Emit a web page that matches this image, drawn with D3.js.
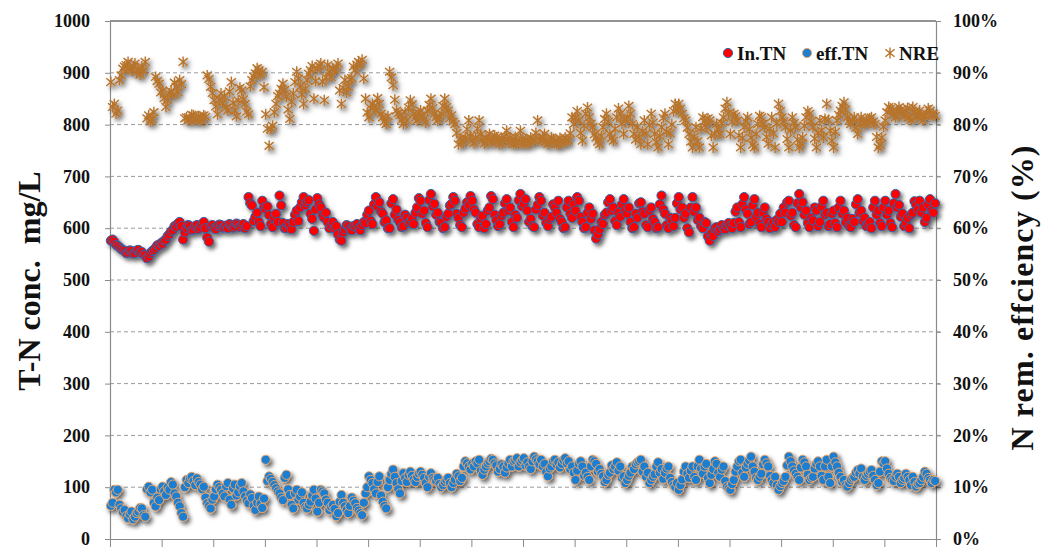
<!DOCTYPE html>
<html>
<head>
<meta charset="utf-8">
<script src="https://cdn.jsdelivr.net/npm/d3@7"></script>
<style>
  body { margin: 0; background: #fff; }
  text { font-family: "Liberation Serif", "Times New Roman", serif; font-weight: bold; fill: #111; }
</style>
</head>
<body>
<svg id="chart" width="1056" height="548"></svg>
<script>
// Operation days (daily samples over 480 days)
const days = d3.range(0.5, 480, 1);
const dayTicks = d3.range(0, 481, 30);

// Influent total nitrogen, mg/L
const inTN = [
  576, 578, 574, 568, 566, 563, 560, 558, 556, 552, 553, 557, 556, 551, 552, 557, 558, 553, 554, 549, 548, 542, 545, 552, 556, 558, 562, 567, 566, 571,
  570, 576, 578, 585, 588, 594, 597, 604, 603, 609, 612, 604, 578, 592, 600, 606, 604, 596, 598, 604, 606, 598, 601, 608, 612, 600, 582, 574, 603, 606,
  600, 598, 604, 607, 606, 601, 602, 605, 600, 608, 605, 601, 603, 609, 607, 602, 605, 608, 600, 604, 660, 648, 644, 614, 622, 630, 612, 604, 653, 640,
  637, 642, 625, 608, 602, 620, 628, 612, 663, 644, 610, 600, 600, 608, 605, 598, 612, 626, 634, 614, 640, 650, 660, 644, 650, 654, 628, 618, 595, 636,
  658, 646, 640, 624, 620, 630, 612, 600, 605, 612, 600, 604, 588, 578, 576, 592, 598, 606, 604, 598, 596, 604, 603, 608, 600, 596, 606, 612, 610, 626,
  634, 614, 608, 646, 660, 642, 650, 632, 628, 612, 615, 600, 600, 648, 656, 626, 636, 616, 611, 602, 604, 626, 620, 610, 612, 618, 608, 630, 640, 658,
  653, 628, 634, 610, 602, 654, 666, 642, 647, 626, 630, 612, 610, 600, 602, 622, 628, 644, 647, 660, 653, 628, 620, 606, 602, 630, 638, 650, 645, 662,
  653, 636, 630, 608, 602, 618, 624, 600, 608, 634, 640, 662, 656, 626, 615, 604, 608, 624, 630, 648, 656, 634, 640, 612, 602, 626, 620, 654, 666, 642,
  647, 656, 634, 612, 618, 604, 602, 636, 645, 660, 653, 624, 630, 610, 604, 618, 622, 646, 640, 630, 653, 618, 612, 600, 602, 640, 653, 628, 620, 646,
  634, 660, 653, 622, 612, 600, 602, 630, 640, 618, 628, 596, 580, 588, 598, 612, 608, 626, 630, 650, 656, 634, 640, 614, 606, 630, 622, 646, 656, 634,
  628, 640, 612, 600, 602, 628, 620, 648, 650, 632, 628, 606, 602, 634, 640, 618, 612, 600, 602, 646, 663, 636, 628, 606, 600, 620, 615, 604, 620, 648,
  660, 636, 640, 620, 628, 600, 592, 640, 660, 632, 640, 616, 620, 604, 600, 612, 610, 584, 576, 590, 585, 600, 602, 594, 598, 606, 600, 598, 605, 610,
  605, 600, 610, 632, 640, 612, 602, 646, 660, 636, 628, 608, 612, 644, 656, 622, 630, 608, 602, 630, 640, 618, 612, 600, 606, 612, 602, 616, 612, 628,
  612, 640, 630, 650, 653, 624, 630, 606, 602, 648, 666, 640, 650, 626, 634, 610, 602, 620, 615, 640, 634, 604, 612, 642, 653, 626, 630, 604, 608, 628,
  634, 610, 602, 640, 653, 628, 634, 612, 620, 604, 602, 618, 612, 646, 656, 630, 634, 614, 620, 604, 608, 612, 600, 640, 653, 626, 634, 610, 604, 640,
  653, 626, 634, 610, 602, 648, 666, 640, 645, 622, 628, 604, 610, 620, 600, 626, 630, 652, 645, 636, 653, 630, 640, 612, 620, 646, 656, 634, 630, 648
];

// Effluent total nitrogen, mg/L
const effTN = [
  64, 70, 95, 90, 95, 66, 59, 52, 56, 44, 40, 48, 53, 38, 43, 50, 53, 60, 59, 46, 43, 96, 101, 90, 95, 70, 63, 80, 75, 96,
  101, 92, 85, 100, 95, 110, 105, 88, 82, 70, 63, 50, 43, 100, 114, 108, 117, 120, 112, 104, 117, 110, 105, 96, 101, 80, 69, 64, 59, 76,
  82, 96, 105, 100, 95, 88, 82, 102, 108, 76, 66, 98, 105, 84, 90, 102, 108, 92, 82, 74, 69, 86, 79, 64, 56, 70, 82, 68, 60, 78,
  153, 112, 121, 116, 110, 104, 98, 92, 88, 80, 75, 118, 124, 96, 85, 66, 59, 88, 95, 76, 82, 90, 70, 62, 59, 66, 72, 84, 95, 78,
  53, 70, 95, 92, 88, 76, 70, 56, 62, 66, 58, 44, 50, 72, 85, 70, 63, 56, 50, 64, 80, 74, 69, 60, 55, 50, 46, 70, 88, 100,
  121, 114, 108, 96, 88, 110, 121, 84, 72, 64, 59, 100, 114, 126, 134, 120, 108, 96, 88, 112, 127, 118, 110, 124, 130, 122, 115, 110, 120, 126,
  130, 124, 118, 108, 100, 120, 127, 118, 115, 112, 118, 106, 100, 104, 110, 114, 118, 108, 100, 108, 115, 126, 121, 112, 118, 140, 150, 146, 140, 134,
  145, 140, 150, 146, 153, 132, 124, 134, 140, 146, 150, 155, 153, 146, 142, 130, 135, 144, 140, 128, 138, 146, 153, 140, 150, 152, 156, 140, 148, 152,
  156, 142, 148, 140, 135, 150, 159, 154, 150, 144, 153, 140, 145, 130, 121, 136, 140, 150, 153, 144, 148, 138, 145, 152, 156, 146, 150, 134, 140, 128,
  114, 132, 145, 150, 140, 122, 128, 120, 114, 140, 153, 150, 145, 130, 135, 126, 121, 110, 114, 124, 128, 142, 135, 140, 148, 132, 140, 118, 121, 108,
  114, 122, 128, 140, 135, 144, 148, 150, 153, 130, 140, 120, 128, 108, 114, 120, 125, 140, 148, 128, 135, 116, 128, 136, 140, 118, 110, 104, 100, 108,
  95, 104, 115, 130, 140, 126, 118, 132, 140, 120, 114, 140, 153, 136, 126, 140, 145, 118, 108, 124, 135, 150, 145, 128, 120, 134, 140, 112, 101, 98,
  95, 106, 114, 130, 140, 150, 153, 128, 120, 138, 145, 152, 159, 140, 130, 118, 114, 120, 126, 144, 153, 146, 140, 122, 114, 108, 120, 104, 95, 102,
  108, 112, 120, 142, 159, 150, 140, 132, 126, 120, 114, 138, 153, 148, 140, 124, 114, 118, 120, 136, 145, 150, 140, 122, 114, 140, 153, 120, 108, 140,
  159, 148, 140, 128, 120, 110, 114, 104, 101, 108, 114, 118, 120, 128, 133, 126, 136, 120, 114, 122, 126, 130, 133, 122, 114, 104, 108, 130, 150, 146,
  150, 136, 126, 118, 114, 112, 120, 126, 120, 108, 114, 118, 126, 120, 114, 104, 120, 110, 101, 106, 108, 114, 120, 130, 126, 118, 114, 108, 114, 112
];

// Nitrogen removal efficiency, %
const nre = [
  88.2, 83.4, 84, 82.1, 82.7, 88.6, 89.5, 90.8, 91.2, 91.5, 92.1, 90.8, 90.5, 91.2, 91.8, 90.1, 90.6, 89.6, 91.2, 90.4, 92.1, 81.2, 81.8, 80.6, 81.1, 82.4, 89.2, 88.4, 87.9, 86.2,
  86.6, 85.1, 83.4, 84.8, 86, 86.4, 85.7, 88.1, 87.3, 86.2, 88.6, 87.8, 92.1, 81.2, 81.4, 80.8, 81.1, 81.9, 81.8, 80.9, 81.1, 81.6, 81.4, 80.7, 81.8, 81.5, 89.5, 88.8, 87.3, 86.1,
  84.7, 83.5, 82, 84.8, 86, 84.1, 85.4, 83.3, 82.7, 86.4, 88.2, 84.2, 82.7, 81.6, 84.7, 87.1, 86.6, 84.9, 84, 82.5, 82, 87.4, 88.6, 89.3, 89.9, 90.9, 90.5, 89.7, 90.2, 87.2,
  82, 79.2, 75.9, 79.1, 79.8, 82.4, 84, 85.5, 86, 86.9, 87.9, 86.7, 85.4, 82.9, 81.1, 84.4, 86, 88.2, 90.2, 88.9, 87.3, 85.8, 84, 86.9, 88.6, 89.8, 90.5, 91.3, 85, 88.4,
  90.8, 91.3, 91.8, 88.3, 84.7, 89.1, 91.5, 90.1, 89.2, 90.9, 90.5, 91.1, 91.8, 86.6, 84, 87.1, 88.6, 86.2, 87.3, 88.7, 89, 91.2, 90.5, 91.6, 92.1, 91.7, 92.5, 88.9, 85, 82.3,
  81.4, 83.2, 84, 83.6, 82.7, 85.1, 84, 82.1, 81.4, 80.6, 80.1, 81.6, 90.2, 89.1, 87.6, 84.8, 82.7, 82.2, 81.8, 80.9, 80.1, 82.4, 80.8, 83.3, 84.7, 83.9, 82.1, 81.3, 80.8, 82.2,
  82.7, 81.7, 81.1, 80.4, 82.7, 83.8, 85, 83.2, 82.1, 81.4, 80.8, 81.5, 82.1, 83.6, 85, 83.4, 82.7, 81.2, 81.8, 80.6, 80.1, 78.4, 76.2, 77.3, 76.9, 76.6, 77.5, 79.1, 80.8, 77.8,
  76.9, 76.4, 77.5, 79.2, 80.8, 78.1, 76.9, 76.3, 77.5, 77.1, 78.2, 76.6, 76.9, 77.9, 77.5, 76.8, 76.2, 77.4, 76.9, 77.7, 78.8, 76.5, 77.5, 76.8, 76.2, 77.6, 76.9, 76.4, 78.8, 77.2,
  76.2, 77.1, 76.9, 76.4, 77.5, 77.2, 76.9, 78.4, 80.8, 77.2, 76.9, 77.6, 78.2, 76.7, 76.2, 76.8, 77.5, 77.2, 76.9, 76.3, 76.2, 77.4, 76.9, 76.5, 77.5, 77.1, 76.9, 78.3, 81.4, 80.1,
  81.4, 82.6, 80.8, 78.4, 76.9, 79.8, 82.1, 83.3, 81.4, 80.2, 79.5, 78.1, 77.5, 76.7, 76.2, 77.8, 79.5, 81.1, 82.1, 80.6, 78.2, 77.4, 76.9, 79.2, 81.4, 83.1, 82.1, 80.2, 78.2, 80.9,
  81.4, 83.6, 82.1, 80.1, 78.2, 77.1, 79.5, 77.6, 76.2, 78.7, 80.8, 78.3, 76.2, 79.9, 82.1, 80.4, 78.2, 76.6, 75.6, 77.8, 79.5, 81.3, 82.1, 78.6, 76.2, 78.3, 80, 82.6, 84, 82.9,
  84, 83.1, 82.1, 81.2, 80.8, 79.4, 78.2, 76.7, 75.6, 77.7, 79.5, 76.8, 75.6, 79.3, 81.4, 80.6, 79.5, 81.2, 80.8, 77.9, 75.6, 78.2, 80.1, 79.1, 78.2, 80.3, 81.4, 83.1, 84.3, 82.2,
  78.2, 80.5, 82.1, 81.6, 80.8, 77.9, 75.6, 77.4, 79.5, 80.7, 81.4, 79.1, 77.5, 76.1, 75.6, 78.2, 80.1, 81.7, 81.4, 80.2, 79.5, 77.6, 76.3, 79.2, 81.4, 78.3, 75.6, 80.2, 84, 82.6,
  81.4, 80.7, 79.5, 77.2, 75.6, 78.9, 81.4, 80.3, 79.5, 77.1, 75.6, 76.3, 77.5, 79.8, 81.4, 82.6, 82.1, 80.6, 79.5, 77.3, 75.6, 78.4, 80.8, 78.9, 77.5, 81.1, 84, 80.9, 78.8, 76.9,
  75.6, 78.6, 80.8, 81.9, 82.7, 83.6, 84.3, 82.9, 81.4, 80.7, 80.1, 80.9, 81.4, 79.4, 78.2, 80.1, 81.4, 80.7, 80.1, 80.6, 80.8, 81.2, 81.4, 80.6, 80.1, 77.6, 75.6, 76.1, 77.5, 79.6,
  80.8, 82.4, 83.4, 83.1, 82.7, 81.9, 81.4, 82.6, 83.4, 82.8, 82.1, 81.6, 82.7, 83.2, 81.4, 80.9, 83.4, 82.5, 81.4, 82.1, 82.7, 81.8, 80.8, 81.6, 82.1, 83.1, 82.7, 81.9, 82.1, 81.7
];

const concTicks = [0, 100, 200, 300, 400, 500, 600, 700, 800, 900, 1000];
const pctTicks = [0, 10, 20, 30, 40, 50, 60, 70, 80, 90, 100];
const seriesNames = ["In.TN", "eff.TN", "NRE"];

const svg = d3.select("#chart");
const L = 110, R = 936, T = 21, B = 539;

const x = d3.scaleLinear().domain([0, 480]).range([L, R]);
const yConc = d3.scaleLinear().domain([0, 1000]).range([B, T]);
const yPct = d3.scaleLinear().domain([0, 100]).range([B, T]);

// marker drop shadow
const defs = svg.append("defs");
defs.append("filter").attr("id", "shadow")
  .attr("x", "-5%").attr("y", "-10%").attr("width", "115%").attr("height", "130%")
  .append("feDropShadow")
  .attr("dx", 2.5).attr("dy", 3).attr("stdDeviation", 2)
  .attr("flood-color", "#000").attr("flood-opacity", 0.6);

// gridlines
svg.append("g").selectAll("line")
  .data(concTicks.filter(d => d > 0 && d < 1000))
  .join("line")
  .attr("x1", L).attr("x2", R + 5)
  .attr("y1", d => yConc(d)).attr("y2", d => yConc(d))
  .attr("stroke", "#9a9a9a").attr("stroke-width", 1).attr("stroke-dasharray", "4,3");

// top frame line
svg.append("line")
  .attr("x1", L).attr("x2", R).attr("y1", yConc(1000)).attr("y2", yConc(1000))
  .attr("stroke", "#6e6e6e").attr("stroke-width", 1.5);

// axes
const styleAxis = g => {
  g.select(".domain").attr("stroke", "#8a8a8a").attr("stroke-width", 1.2);
  g.selectAll(".tick line").attr("stroke", "#8a8a8a");
  g.selectAll(".tick text").attr("font-size", 18).attr("fill", "#111")
    .style("font-family", "'Liberation Serif','Times New Roman',serif").style("font-weight", "bold");
};

svg.append("g").attr("transform", `translate(${L},0)`)
  .call(d3.axisLeft(yConc).tickValues(concTicks).tickFormat(d => String(d))
    .tickSize(5).tickSizeOuter(0).tickPadding(15))
  .call(styleAxis);

svg.append("g").attr("transform", `translate(${R},0)`)
  .call(d3.axisRight(yPct).tickValues(pctTicks).tickFormat(d => d + "%")
    .tickSize(5).tickSizeOuter(0).tickPadding(12))
  .call(styleAxis);

svg.append("g").attr("transform", `translate(0,${B})`)
  .call(d3.axisBottom(x).tickValues(dayTicks).tickSize(8).tickSizeOuter(0).tickFormat(""))
  .call(styleAxis);

// axis titles
svg.append("text")
  .attr("transform", "translate(40,281) rotate(-90)")
  .attr("text-anchor", "middle").attr("font-size", 32)
  .style("white-space", "pre")
  .text("T-N conc.  mg/L");

svg.append("text")
  .attr("transform", "translate(1033,298) rotate(-90)")
  .attr("text-anchor", "middle").attr("font-size", 32)
  .attr("textLength", 305).attr("lengthAdjust", "spacing")
  .text("N rem. effciency (%)");

// markers
const starPath = "M0,-5.5V5.5M-4.6,-3.8L4.6,3.8M-4.6,3.8L4.6,-3.8";
const nreColor = "#b8742c";

svg.append("g").attr("filter", "url(#shadow)")
  .selectAll("path").data(nre).join("path")
  .attr("transform", (d, i) => `translate(${x(days[i])},${yPct(d)})`)
  .attr("d", starPath).attr("fill", "none")
  .attr("stroke", nreColor).attr("stroke-width", 1.4);

svg.append("g").attr("filter", "url(#shadow)")
  .selectAll("circle").data(inTN).join("circle")
  .attr("cx", (d, i) => x(days[i])).attr("cy", d => yConc(d)).attr("r", 4.6)
  .attr("fill", "#ff0000").attr("stroke", "#2f63a8").attr("stroke-width", 1);

svg.append("g").attr("filter", "url(#shadow)")
  .selectAll("circle").data(effTN).join("circle")
  .attr("cx", (d, i) => x(days[i])).attr("cy", d => yConc(d)).attr("r", 4.6)
  .attr("fill", "#1f7ed0").attr("stroke", "#e8a56a").attr("stroke-width", 1);

// legend
const legend = svg.append("g");
const items = [
  { name: seriesNames[0], mx: 728, tx: 737, type: "circle", fill: "#ff0000", stroke: "#2f63a8" },
  { name: seriesNames[1], mx: 807, tx: 816, type: "circle", fill: "#1f7ed0", stroke: "#e8a56a" },
  { name: seriesNames[2], mx: 890, tx: 899, type: "star" }
];
items.forEach(it => {
  if (it.type === "circle") {
    legend.append("circle").attr("cx", it.mx).attr("cy", 53).attr("r", 4.6)
      .attr("fill", it.fill).attr("stroke", it.stroke).attr("stroke-width", 1);
  } else {
    legend.append("path").attr("transform", `translate(${it.mx},53)`).attr("d", starPath)
      .attr("fill", "none").attr("stroke", nreColor).attr("stroke-width", 1.4);
  }
  legend.append("text").attr("x", it.tx).attr("y", 59.5).attr("font-size", 19).text(it.name);
});
</script>
</body>
</html>
